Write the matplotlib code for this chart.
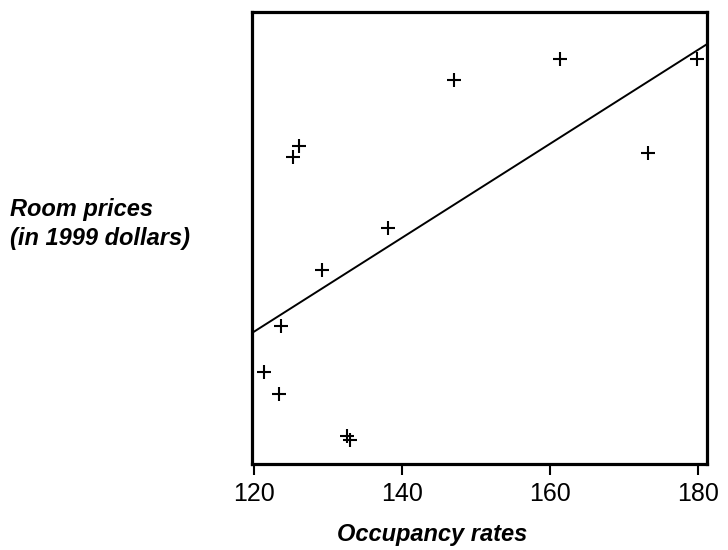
import matplotlib
matplotlib.use('Agg')
import matplotlib.pyplot as plt
import numpy as np

# occupancy rates (x) and room prices (y, unlabeled scale)
occupancy = [147.0, 126.1, 125.2, 161.3, 179.8, 173.3, 138.1,
             129.2, 123.7, 121.3, 123.4, 132.5, 133.0]
prices = [85.0, 70.4, 68.0, 89.6, 89.7, 68.9, 52.1,
          42.9, 30.5, 20.3, 15.4, 6.2, 5.4]
xticks = [120, 140, 160, 180]

plt.rcParams['font.family'] = ['Liberation Sans', 'DejaVu Sans']

fig = plt.figure(figsize=(7.28, 5.5), dpi=100)
ax = fig.add_axes([0.3462, 0.1564, 0.9718 - 0.3462, 0.9782 - 0.1564])

x = np.array(occupancy); y = np.array(prices)
coef = np.polyfit(x, y, 1)
xlim = (119.73, 181.28)
xl = np.array(xlim)
ax.plot(xl, np.polyval(coef, xl), '-', color='black', linewidth=1.4)
ax.plot(x, y, '+', color='black', markersize=10, markeredgewidth=1.5)

ax.set_xlim(*xlim)
ax.set_ylim(0, 100)
ax.set_xticks(xticks)
ax.set_yticks([])
ax.tick_params(axis='x', direction='out', length=8, width=1.5, labelsize=18, pad=5)
for s in ax.spines.values():
    s.set_linewidth(2.3)

fig.text(432 / 728, 1 - 535 / 550, 'Occupancy rates', ha='center', va='center',
         fontsize=17, fontweight='bold', fontstyle='italic')
fig.text(10 / 728, 1 - 224 / 550, 'Room prices\n(in 1999 dollars)', ha='left', va='center',
         fontsize=17, fontweight='bold', fontstyle='italic', linespacing=1.3)

fig.savefig('out.png', dpi=100)
plt.close()
